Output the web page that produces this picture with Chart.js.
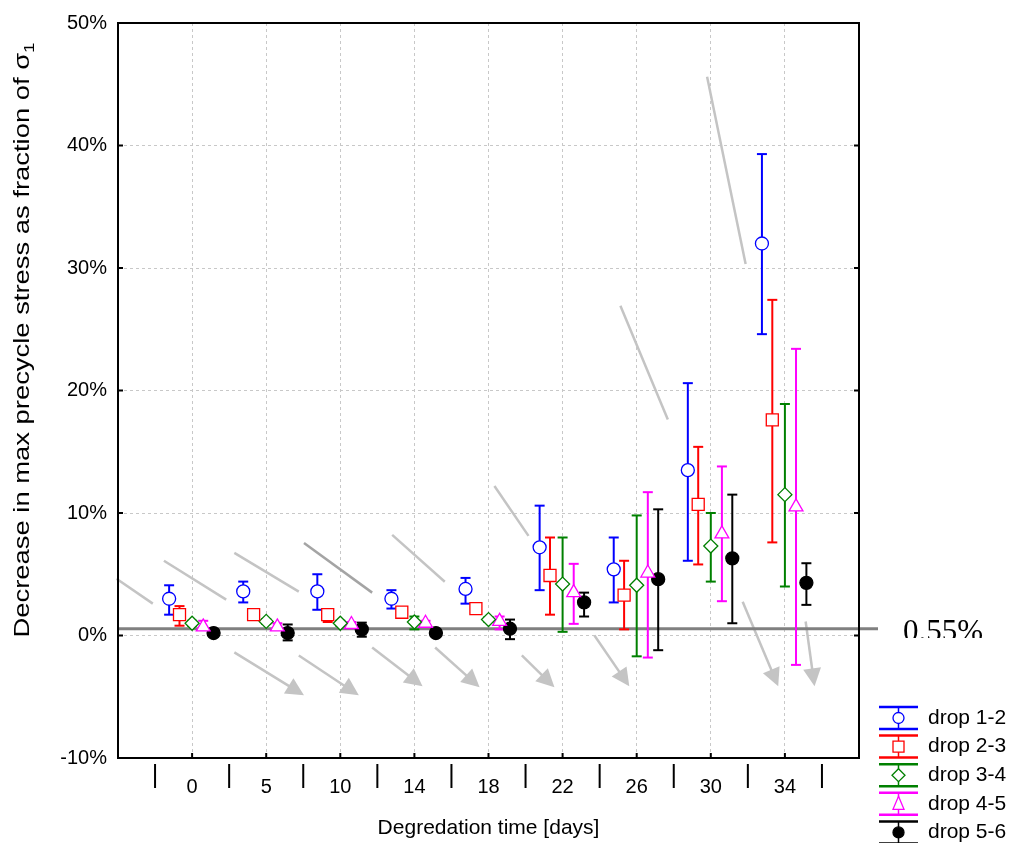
<!DOCTYPE html>
<html>
<head>
<meta charset="utf-8">
<script src="https://cdn.jsdelivr.net/npm/chart.js@4.4.0/dist/chart.umd.min.js"></script>
<style>
  html, body { margin: 0; padding: 0; background: #fff; }
  #wrap { position: relative; width: 1016px; height: 843px; }
</style>
</head>
<body>
<div id="wrap"><canvas id="myChart" width="1016" height="843"></canvas></div>
<script>
var categories = ['0', '5', '10', '14', '18', '22', '26', '30', '34'];
var seriesLabels = ['drop 1-2', 'drop 2-3', 'drop 3-4', 'drop 4-5', 'drop 5-6'];

// mean and error bar ends, in percent
var drop12 = [3.0, 3.6, 3.6, 3.0, 3.8, 7.2, 5.4, 13.5, 32.0];
var drop12Lo = [1.7, 2.7, 2.1, 2.2, 2.6, 3.7, 2.7, 6.1, 24.6];
var drop12Hi = [4.1, 4.4, 5.0, 3.7, 4.7, 10.6, 8.0, 20.6, 39.3];

var drop23 = [1.7, 1.7, 1.7, 1.9, 2.2, 4.9, 3.3, 10.7, 17.6];
var drop23Lo = [0.8, 1.5, 1.1, 1.7, 2.0, 1.7, 0.5, 5.8, 7.6];
var drop23Hi = [2.4, 1.9, 2.0, 2.1, 2.4, 8.0, 6.1, 15.4, 27.4];

var drop34 = [1.0, 1.15, 1.0, 1.1, 1.3, 4.2, 4.1, 7.3, 11.5];
var drop34Lo = [0.8, 0.95, 0.8, 0.5, 1.1, 0.3, -1.7, 4.4, 4.0];
var drop34Hi = [1.2, 1.35, 1.2, 1.55, 1.5, 8.0, 9.8, 10.0, 18.9];

var drop45 = [0.7, 0.7, 0.9, 1.0, 1.15, 3.5, 5.1, 8.3, 10.5];
var drop45Lo = [0.5, 0.5, 0.7, 0.8, 0.5, 0.95, -1.8, 2.8, -2.4];
var drop45Hi = [1.2, 1.0, 1.1, 1.2, 1.55, 5.85, 11.7, 13.8, 23.4];

var drop56 = [0.2, 0.2, 0.5, 0.2, 0.55, 2.7, 4.6, 6.3, 4.3];
var drop56Lo = [0.0, -0.4, -0.1, 0.0, -0.3, 1.55, -1.2, 1.0, 2.5];
var drop56Hi = [0.4, 0.9, 1.05, 0.4, 1.3, 3.5, 10.3, 11.5, 5.9];

var refValue = 0.55;
var refLabel = '0.55%';

// grey hand-drawn strokes, in (category index, percent): x1, y1, x2, y2
var noteLines = [
    [-1.02, 4.63, -0.53, 2.60],
    [-0.38, 6.10, 0.46, 2.93],
    [0.57, 6.75, 1.44, 3.58],
    [1.51, 7.56, 2.43, 3.50],
    [2.70, 8.21, 3.41, 4.39],
    [4.08, 12.20, 4.54, 8.13],
    [5.78, 26.91, 6.42, 17.64],
    [6.95, 45.61, 7.47, 30.33]
];
var noteArrows = [
    [0.57, -1.38, 1.51, -4.88],
    [1.44, -1.63, 2.25, -4.88],
    [2.43, -0.98, 3.11, -4.15],
    [3.28, -0.98, 3.88, -4.23],
    [4.45, -1.63, 4.89, -4.23],
    [5.43, 0.0, 5.90, -4.15],
    [7.43, 2.76, 7.91, -4.15],
    [8.28, 1.14, 8.40, -4.15]
];

var xTitle = 'Degredation time [days]';
var yTitle = 'Decrease in max precycle stress as fraction of \u03c3';
var yTitleSub = '1';

var means = [drop12, drop23, drop34, drop45, drop56];
var lows = [drop12Lo, drop23Lo, drop34Lo, drop45Lo, drop56Lo];
var highs = [drop12Hi, drop23Hi, drop34Hi, drop45Hi, drop56Hi];

var seriesStyles = [
    {color: '#0000ff', shape: 'circle', fill: '#ffffff', radius: 6.5},
    {color: '#ff0000', shape: 'rect', fill: '#ffffff', radius: 8.5},
    {color: '#008000', shape: 'rectRot', fill: '#ffffff', radius: 7},
    {color: '#ff00ff', shape: 'triangle', fill: '#ffffff', radius: 8},
    {color: '#000000', shape: 'circle', fill: '#000000', radius: 6.5}
];
var dodge = [-0.31, -0.17, 0, 0.15, 0.29];
var FONT = "'Liberation Sans', Arial, sans-serif";

function buildPoints(values, k) {
    return values.map(function(v, i) {
        return {x: i + dodge[k], y: v};
    });
}

function buildDatasets() {
    return means.map(function(values, k) {
        var st = seriesStyles[k];
        return {
            label: seriesLabels[k],
            data: buildPoints(values, k),
            pointStyle: st.shape,
            pointRadius: st.radius,
            pointBackgroundColor: st.fill,
            pointBorderColor: st.color,
            pointBorderWidth: 1.3,
            showLine: false
        };
    });
}

function line(ctx, x1, y1, x2, y2) {
    ctx.beginPath();
    ctx.moveTo(x1, y1);
    ctx.lineTo(x2, y2);
    ctx.stroke();
}

function drawArrow(ctx, x1, y1, x2, y2) {
    var ang = Math.atan2(y2 - y1, x2 - x1);
    var head = 18, half = 9;
    var bx = x2 - Math.cos(ang) * head, by = y2 - Math.sin(ang) * head;
    line(ctx, x1, y1, bx + Math.cos(ang) * 2, by + Math.sin(ang) * 2);
    ctx.beginPath();
    ctx.moveTo(x2, y2);
    ctx.lineTo(bx + Math.sin(ang) * half, by - Math.cos(ang) * half);
    ctx.lineTo(bx - Math.sin(ang) * half, by + Math.cos(ang) * half);
    ctx.closePath();
    ctx.fill();
}

function drawMarker(ctx, st, x, y, r) {
    ctx.fillStyle = st.fill;
    ctx.strokeStyle = st.color;
    ctx.lineWidth = 1.3;
    ctx.beginPath();
    if (st.shape === 'circle') {
        ctx.arc(x, y, r, 0, Math.PI * 2);
    } else if (st.shape === 'rect') {
        ctx.rect(x - r, y - r, 2 * r, 2 * r);
    } else if (st.shape === 'rectRot') {
        ctx.moveTo(x, y - r - 1);
        ctx.lineTo(x + r + 1, y);
        ctx.lineTo(x, y + r + 1);
        ctx.lineTo(x - r - 1, y);
        ctx.closePath();
    } else {
        ctx.moveTo(x, y - r - 2);
        ctx.lineTo(x + r, y + r);
        ctx.lineTo(x - r, y + r);
        ctx.closePath();
    }
    ctx.fill();
    ctx.stroke();
}

var decorPlugin = {
    id: 'decor',
    beforeDatasetsDraw: function(chart) {
        var ctx = chart.ctx, xs = chart.scales.x, ys = chart.scales.y;
        var area = chart.chartArea;
        ctx.save();

        // grey notes
        ctx.lineCap = 'butt';
        ctx.lineWidth = 2.5;
        noteLines.forEach(function(n, i) {
            ctx.strokeStyle = i === 3 ? '#a4a4a4' : '#c4c4c4';
            line(ctx, xs.getPixelForValue(n[0]), ys.getPixelForValue(n[1]),
                xs.getPixelForValue(n[2]), ys.getPixelForValue(n[3]));
        });
        ctx.strokeStyle = '#c4c4c4';
        ctx.fillStyle = '#c4c4c4';
        noteArrows.forEach(function(n) {
            drawArrow(ctx, xs.getPixelForValue(n[0]), ys.getPixelForValue(n[1]),
                xs.getPixelForValue(n[2]), ys.getPixelForValue(n[3]));
        });

        // threshold line, runs out past the frame
        var yRef = ys.getPixelForValue(refValue);
        ctx.strokeStyle = '#808080';
        ctx.lineWidth = 3;
        line(ctx, area.left, yRef, area.right + 19, yRef);

        // error bars
        means.forEach(function(values, k) {
            var meta = chart.getDatasetMeta(k);
            ctx.strokeStyle = seriesStyles[k].color;
            ctx.lineWidth = 2;
            meta.data.forEach(function(pt, j) {
                var yLo = ys.getPixelForValue(lows[k][j]);
                var yHi = ys.getPixelForValue(highs[k][j]);
                line(ctx, pt.x, yLo, pt.x, yHi);
                line(ctx, pt.x - 5, yLo, pt.x + 5, yLo);
                line(ctx, pt.x - 5, yHi, pt.x + 5, yHi);
            });
        });
        ctx.restore();
    },
    afterDraw: function(chart) {
        var ctx = chart.ctx, xs = chart.scales.x, ys = chart.scales.y;
        var area = chart.chartArea;
        ctx.save();

        // frame and inner ticks
        ctx.strokeStyle = '#000';
        ctx.lineWidth = 2;
        ctx.strokeRect(area.left, area.top, area.right - area.left, area.bottom - area.top);
        ys.ticks.forEach(function(t) {
            var y = ys.getPixelForValue(t.value);
            line(ctx, area.left, y, area.left + 5, y);
            line(ctx, area.right - 5, y, area.right, y);
        });
        categories.forEach(function(c, i) {
            var x = xs.getPixelForValue(i);
            line(ctx, x, area.bottom - 5, x, area.bottom);
        });
        // group separators under the axis
        for (var i = 0; i <= categories.length; i++) {
            var sx = xs.getPixelForValue(i - 0.5);
            line(ctx, sx, area.bottom + 6, sx, area.bottom + 30);
        }

        // x title
        ctx.fillStyle = '#000';
        ctx.font = '21px ' + FONT;
        ctx.textAlign = 'center';
        ctx.textBaseline = 'middle';
        ctx.fillText(xTitle, (area.left + area.right) / 2, 828);

        // y title, stretched along its length like the original
        ctx.save();
        ctx.translate(22, 340);
        ctx.rotate(-Math.PI / 2);
        ctx.font = '22px ' + FONT;
        var wMain = ctx.measureText(yTitle).width;
        ctx.font = '15px ' + FONT;
        var wSub = ctx.measureText(yTitleSub).width;
        var sx2 = 595 / (wMain + wSub);
        ctx.scale(sx2, 1);
        var start = -(wMain + wSub) / 2;
        ctx.textAlign = 'left';
        ctx.textBaseline = 'alphabetic';
        ctx.font = '22px ' + FONT;
        ctx.fillText(yTitle, start, 7);
        ctx.font = '15px ' + FONT;
        ctx.fillText(yTitleSub, start + wMain, 12);
        ctx.restore();

        // threshold label, cut at the bottom like the source image
        ctx.save();
        ctx.beginPath();
        ctx.rect(890, 600, 120, 38);
        ctx.clip();
        ctx.font = "31px 'Liberation Serif', 'Times New Roman', serif";
        ctx.textAlign = 'left';
        ctx.textBaseline = 'alphabetic';
        ctx.fillText(refLabel, 903, 641);
        ctx.restore();

        // legend
        ctx.font = '21px ' + FONT;
        ctx.textAlign = 'left';
        ctx.textBaseline = 'middle';
        seriesLabels.forEach(function(lbl, k) {
            var st = seriesStyles[k];
            var cy = 718 + k * 28.6;
            var cx = 898.5;
            ctx.strokeStyle = st.color;
            ctx.lineWidth = 2.5;
            line(ctx, 879, cy - 11, 918, cy - 11);
            line(ctx, 879, cy + 11, 918, cy + 11);
            ctx.lineWidth = 1.5;
            line(ctx, cx, cy - 11, cx, cy + 11);
            drawMarker(ctx, st, cx, cy, 5.5);
            ctx.fillStyle = '#000';
            ctx.fillText(lbl, 928, cy);
        });
        ctx.restore();
    }
};

function gridColor(c) {
    var v = c.tick ? c.tick.value : null;
    return (v !== null && v >= 0 && v <= categories.length - 1) ? '#c8c8c8' : 'rgba(0,0,0,0)';
}

function buildChart() {
    var ctx = document.getElementById('myChart');
    new Chart(ctx, {
        type: 'scatter',
        data: {datasets: buildDatasets()},
        options: {
            responsive: false,
            animation: false,
            devicePixelRatio: 1,
            layout: {padding: {top: 20, right: 157, left: 0, bottom: 0}},
            plugins: {
                legend: {display: false},
                tooltip: {enabled: false}
            },
            scales: {
                x: {
                    type: 'linear',
                    min: -1,
                    max: categories.length,
                    afterFit: function(scale) { scale.height = 85; },
                    grid: {color: gridColor, lineWidth: 1, drawTicks: false},
                    border: {display: false, dash: [3, 3]},
                    ticks: {
                        stepSize: 1,
                        autoSkip: false,
                        maxRotation: 0,
                        padding: 17,
                        color: '#000',
                        font: {family: FONT, size: 20},
                        callback: function(v) {
                            return categories[v] !== undefined ? categories[v] : '';
                        }
                    }
                },
                y: {
                    min: -10,
                    max: 50,
                    afterFit: function(scale) { scale.width = 118; },
                    grid: {color: '#c8c8c8', lineWidth: 1, drawTicks: false},
                    border: {display: false, dash: [3, 3]},
                    ticks: {
                        stepSize: 10,
                        padding: 11,
                        color: '#000',
                        font: {family: FONT, size: 20},
                        callback: function(v) { return v + '%'; }
                    }
                }
            }
        },
        plugins: [decorPlugin]
    });
}

buildChart();
</script>
</body>
</html>
